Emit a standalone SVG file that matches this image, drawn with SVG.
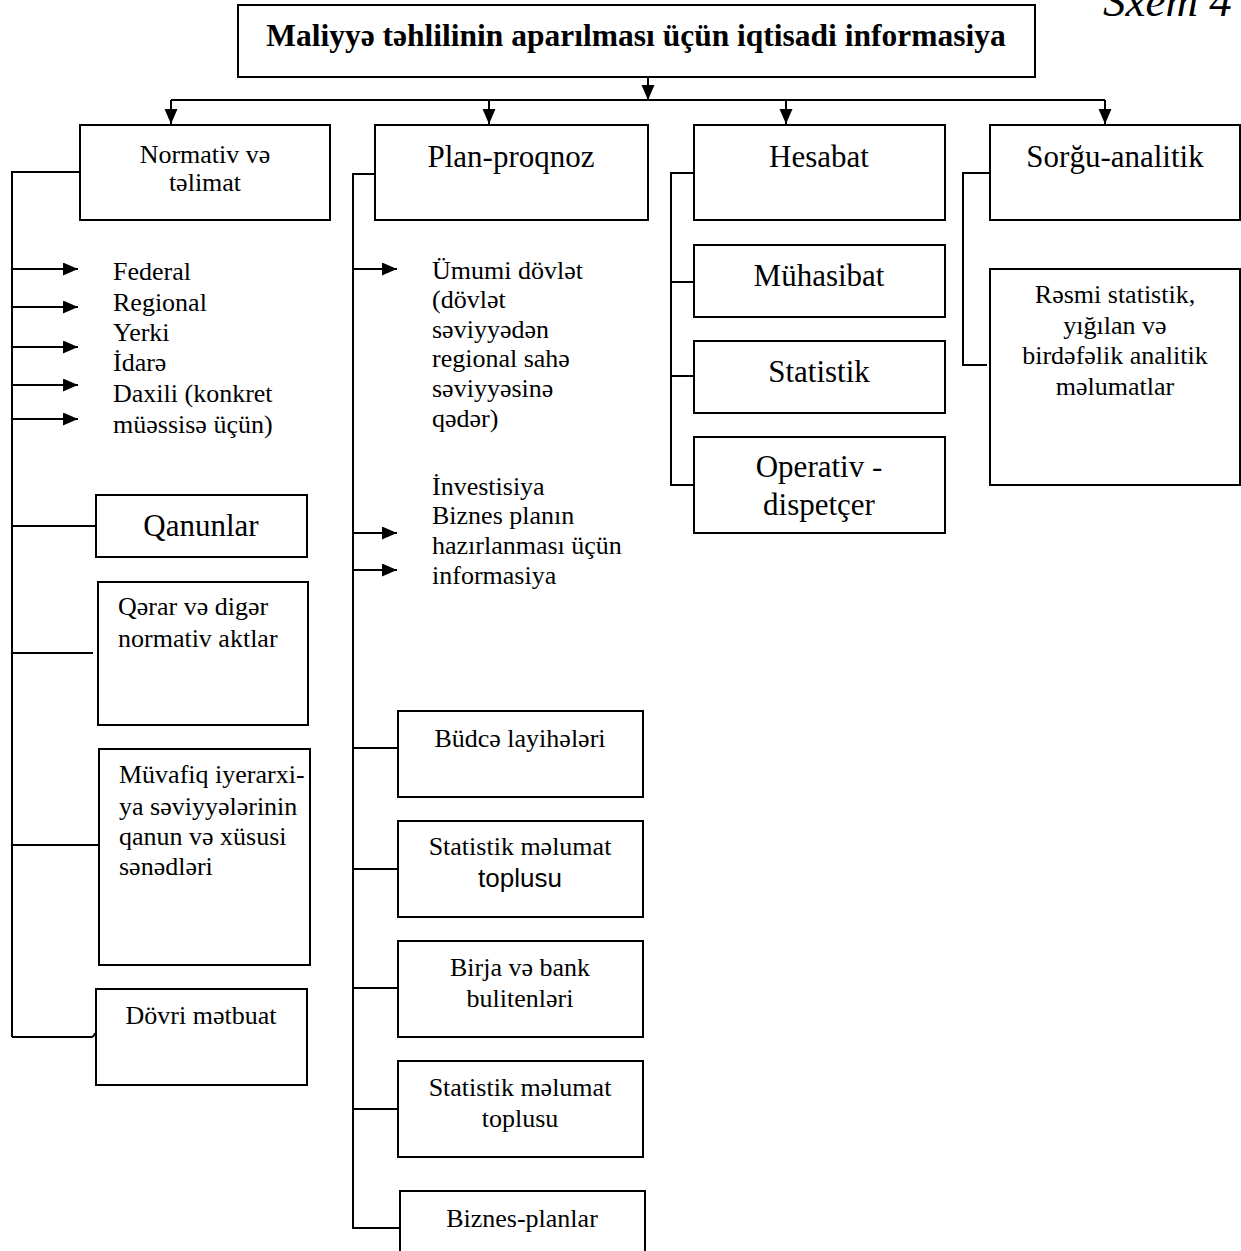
<svg xmlns="http://www.w3.org/2000/svg" width="1241" height="1251" viewBox="0 0 1241 1251">
  <style>
    .box { fill: #ffffff; stroke: #000000; stroke-width: 2; }
    .ln { fill: none; stroke: #000000; stroke-width: 2; }
    .arr { fill: none; stroke: #000000; stroke-width: 2; marker-end: url(#head); }
    .t { font-family: "Liberation Serif", "Times New Roman", "DejaVu Serif", serif; fill: #000000; }
    .s26 { font-size: 26px; }
    .s31 { font-size: 31px; }
    .c { text-anchor: middle; }
    .sans { font-family: "Liberation Sans", Arial, sans-serif; }
  </style>
  <defs>
    <marker id="head" markerUnits="userSpaceOnUse" markerWidth="16" markerHeight="14" refX="15" refY="6.5" orient="auto">
      <path d="M0,0 L15,6.5 L0,13 Z" fill="#000000"/>
    </marker>
  </defs>

  <rect width="1241" height="1251" fill="#ffffff"/>

  <!-- scheme label, partly above the page edge -->
  <text class="t" x="1103" y="16" font-size="45" font-style="italic">Sxem 4</text>

  <!-- connectors -->
  <g id="connectors">
    <!-- root to the four categories -->
    <line class="arr" x1="648" y1="77" x2="648" y2="100"/>
    <line class="ln" x1="171" y1="100" x2="1105" y2="100"/>
    <line class="arr" x1="171" y1="100" x2="171" y2="124"/>
    <line class="arr" x1="489" y1="100" x2="489" y2="124"/>
    <line class="arr" x1="786" y1="100" x2="786" y2="124"/>
    <line class="arr" x1="1105" y1="100" x2="1105" y2="124"/>

    <!-- Normativ və təlimat bus -->
    <polyline class="ln" points="80,172 12,172 12,1037"/>
    <path class="ln" d="M12,1037 L91,1037 Q94,1037 95,1033"/>
    <line class="arr" x1="12" y1="269" x2="78" y2="269"/>
    <line class="arr" x1="12" y1="307" x2="78" y2="307"/>
    <line class="arr" x1="12" y1="347" x2="78" y2="347"/>
    <line class="arr" x1="12" y1="385" x2="78" y2="385"/>
    <line class="arr" x1="12" y1="419" x2="78" y2="419"/>
    <line class="ln" x1="12" y1="526" x2="95" y2="526"/>
    <line class="ln" x1="12" y1="653" x2="93" y2="653"/>
    <line class="ln" x1="12" y1="845" x2="103" y2="845"/>

    <!-- Plan-proqnoz bus -->
    <polyline class="ln" points="375,174 353,174 353,1228 400,1228"/>
    <line class="arr" x1="353" y1="269" x2="397" y2="269"/>
    <line class="arr" x1="353" y1="533" x2="397" y2="533"/>
    <line class="arr" x1="353" y1="570" x2="397" y2="570"/>
    <line class="ln" x1="353" y1="748" x2="398" y2="748"/>
    <line class="ln" x1="353" y1="869" x2="398" y2="869"/>
    <line class="ln" x1="353" y1="988" x2="398" y2="988"/>
    <line class="ln" x1="353" y1="1109" x2="398" y2="1109"/>

    <!-- Hesabat bus -->
    <polyline class="ln" points="694,173 671,173 671,485 694,485"/>
    <line class="ln" x1="671" y1="282" x2="694" y2="282"/>
    <line class="ln" x1="671" y1="376" x2="694" y2="376"/>

    <!-- Sorğu-analitik bus -->
    <polyline class="ln" points="990,173 963,173 963,365 987,365"/>
  </g>

  <!-- root -->
  <g id="root">
    <rect class="box" x="238" y="5" width="797" height="72"/>
    <text class="t c" x="636" y="46" font-size="31.5" font-weight="bold">Maliyyə təhlilinin aparılması üçün iqtisadi informasiya</text>
  </g>

  <!-- categories -->
  <g id="normativ">
    <rect class="box" x="80" y="125" width="250" height="95"/>
    <text class="t s26 c" x="205" y="163">Normativ və</text>
    <text class="t s26 c" x="205" y="191">təlimat</text>
  </g>
  <g id="plan-proqnoz">
    <rect class="box" x="375" y="125" width="273" height="95"/>
    <text class="t s31 c" x="511" y="167">Plan-proqnoz</text>
  </g>
  <g id="hesabat">
    <rect class="box" x="694" y="125" width="251" height="95"/>
    <text class="t s31 c" x="819" y="167">Hesabat</text>
  </g>
  <g id="sorgu-analitik">
    <rect class="box" x="990" y="125" width="250" height="95"/>
    <text class="t s31 c" x="1115" y="167">Sorğu-analitik</text>
  </g>

  <!-- Normativ və təlimat: levels -->
  <g id="normativ-levels">
    <text class="t s26" x="113" y="280">Federal</text>
    <text class="t s26" x="113" y="311">Regional</text>
    <text class="t s26" x="113" y="341">Yerki</text>
    <text class="t s26" x="113" y="371">İdarə</text>
    <text class="t s26" x="113" y="402">Daxili (konkret</text>
    <text class="t s26" x="113" y="433">müəssisə üçün)</text>
  </g>
  <g id="qanunlar">
    <rect class="box" x="96" y="495" width="211" height="62"/>
    <text class="t s31 c" x="201" y="536">Qanunlar</text>
  </g>
  <g id="qerar">
    <rect class="box" x="98" y="582" width="210" height="143"/>
    <text class="t s26" x="118" y="615">Qərar və digər</text>
    <text class="t s26" x="118" y="647">normativ aktlar</text>
  </g>
  <g id="muvafiq">
    <rect class="box" x="99" y="749" width="211" height="216"/>
    <text class="t s26" x="119" y="783">Müvafiq iyerarxi-</text>
    <text class="t s26" x="119" y="815">ya səviyyələrinin</text>
    <text class="t s26" x="119" y="845">qanun və xüsusi</text>
    <text class="t s26" x="119" y="875">sənədləri</text>
  </g>
  <g id="dovri-metbuat">
    <rect class="box" x="96" y="989" width="211" height="96"/>
    <text class="t s26 c" x="201" y="1024">Dövri mətbuat</text>
  </g>

  <!-- Plan-proqnoz: items -->
  <g id="umumi-dovlet">
    <text class="t s26" x="432" y="279">Ümumi dövlət</text>
    <text class="t s26" x="432" y="308">(dövlət</text>
    <text class="t s26" x="432" y="338">səviyyədən</text>
    <text class="t s26" x="432" y="367">regional sahə</text>
    <text class="t s26" x="432" y="397">səviyyəsinə</text>
    <text class="t s26" x="432" y="427">qədər)</text>
  </g>
  <g id="investisiya">
    <text class="t s26" x="432" y="495">İnvestisiya</text>
    <text class="t s26" x="432" y="524">Biznes planın</text>
    <text class="t s26" x="432" y="554">hazırlanması üçün</text>
    <text class="t s26" x="432" y="584">informasiya</text>
  </g>
  <g id="budce">
    <rect class="box" x="398" y="711" width="245" height="86"/>
    <text class="t s26 c" x="520" y="747">Büdcə layihələri</text>
  </g>
  <g id="statistik-toplu-1">
    <rect class="box" x="398" y="821" width="245" height="96"/>
    <text class="t s26 c" x="520" y="855">Statistik məlumat</text>
    <text class="t s26 c sans" x="520" y="887">toplusu</text>
  </g>
  <g id="birja">
    <rect class="box" x="398" y="941" width="245" height="96"/>
    <text class="t s26 c" x="520" y="976">Birja və bank</text>
    <text class="t s26 c" x="520" y="1007">bulitenləri</text>
  </g>
  <g id="statistik-toplu-2">
    <rect class="box" x="398" y="1061" width="245" height="96"/>
    <text class="t s26 c" x="520" y="1096">Statistik məlumat</text>
    <text class="t s26 c" x="520" y="1127">toplusu</text>
  </g>
  <g id="biznes-planlar">
    <rect class="box" x="400" y="1191" width="245" height="70"/>
    <text class="t s26 c" x="522" y="1227">Biznes-planlar</text>
  </g>

  <!-- Hesabat: kinds -->
  <g id="muhasibat">
    <rect class="box" x="694" y="245" width="251" height="72"/>
    <text class="t s31 c" x="819" y="286">Mühasibat</text>
  </g>
  <g id="statistik">
    <rect class="box" x="694" y="341" width="251" height="72"/>
    <text class="t s31 c" x="819" y="382">Statistik</text>
  </g>
  <g id="operativ">
    <rect class="box" x="694" y="437" width="251" height="96"/>
    <text class="t s31 c" x="819" y="477">Operativ -</text>
    <text class="t s31 c" x="819" y="515">dispetçer</text>
  </g>

  <!-- Sorğu-analitik: sources -->
  <g id="resmi-statistik">
    <rect class="box" x="990" y="269" width="250" height="216"/>
    <text class="t s26 c" x="1115" y="303">Rəsmi statistik,</text>
    <text class="t s26 c" x="1115" y="334">yığılan və</text>
    <text class="t s26 c" x="1115" y="364">birdəfəlik analitik</text>
    <text class="t s26 c" x="1115" y="395">məlumatlar</text>
  </g>
</svg>
